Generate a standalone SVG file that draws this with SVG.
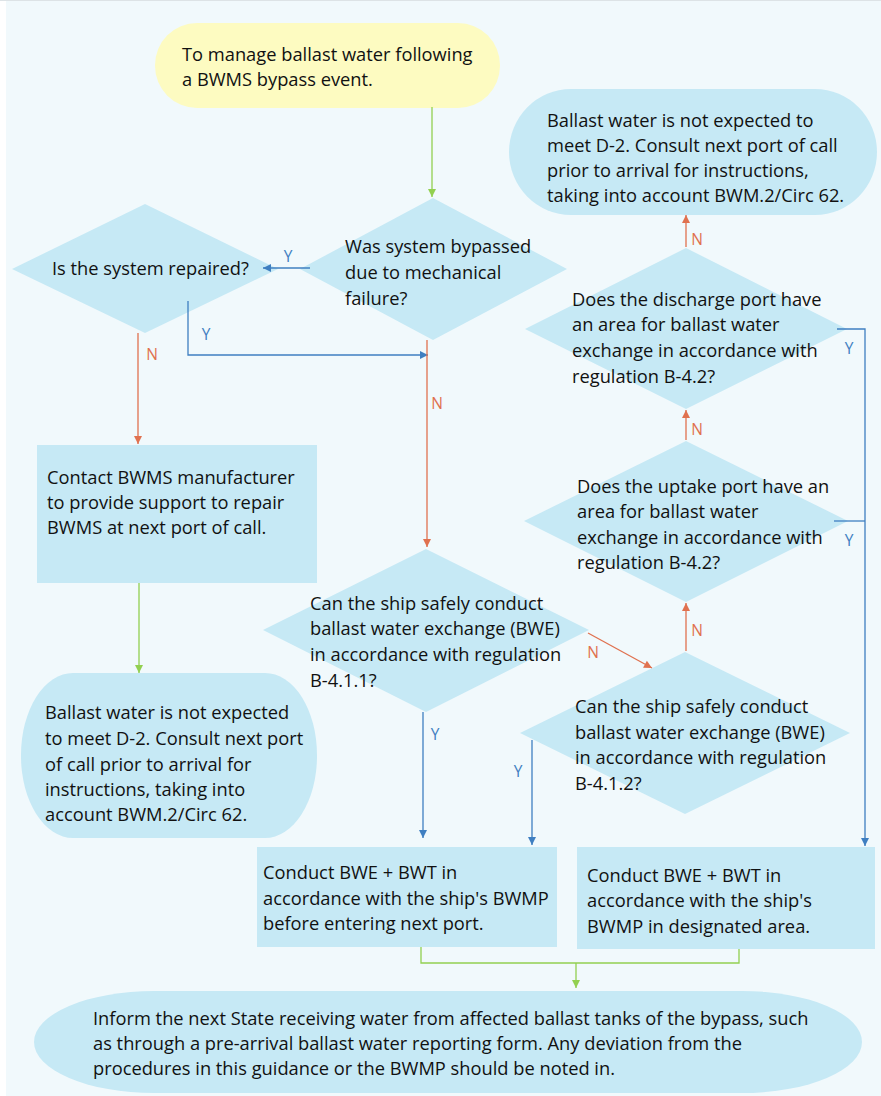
<svg xmlns="http://www.w3.org/2000/svg" width="881" height="1096" viewBox="0 0 881 1096">
<defs>
<style>
.t{font-family:"Open Sans","Liberation Sans",sans-serif;font-size:18.3px;fill:#111}
.node{fill:#c6e9f5}
.lb{font-family:"Open Sans","Liberation Sans",sans-serif;font-size:15.5px;text-anchor:middle}
.ly{fill:#3f7fc1}
.ln{fill:#e0714f}
.cb{fill:none;stroke:#3f7fc1;stroke-width:1.3}
.co{fill:none;stroke:#e0714f;stroke-width:1.3}
.cg{fill:none;stroke:#92d050;stroke-width:1.3}
</style>
<marker id="ab" viewBox="0 0 10 10" refX="10" refY="5" markerWidth="9" markerHeight="8" markerUnits="userSpaceOnUse" orient="auto"><path d="M0,0 L10,5 L0,10 z" fill="#3f7fc1"/></marker>
<marker id="ao" viewBox="0 0 10 10" refX="10" refY="5" markerWidth="9" markerHeight="8" markerUnits="userSpaceOnUse" orient="auto"><path d="M0,0 L10,5 L0,10 z" fill="#e0714f"/></marker>
<marker id="ag" viewBox="0 0 10 10" refX="10" refY="5" markerWidth="9" markerHeight="8" markerUnits="userSpaceOnUse" orient="auto"><path d="M0,0 L10,5 L0,10 z" fill="#92d050"/></marker>
</defs>
<rect x="0" y="0" width="881" height="1096" fill="#ffffff"/>
<rect x="6" y="1" width="875" height="1095" fill="#f1f9fc"/>
<line x1="0" y1="0.5" x2="881" y2="0.5" stroke="#dde3e6"/>

<g id="start">
<rect x="155" y="23" width="345" height="85" rx="42" ry="42" fill="#fdfbc1"/>
<text class="t" x="182" y="61">To manage ballast water following</text>
<text class="t" x="182" y="86">a BWMS bypass event.</text>
</g>

<g id="q-bypassed">
<polygon class="node" points="433,198 567,269 433,340 300,269"/>
<text class="t" x="345" y="253">Was system bypassed</text>
<text class="t" x="345" y="279">due to mechanical</text>
<text class="t" x="345" y="305">failure?</text>
</g>

<g id="q-repaired">
<polygon class="node" points="145,204 278,269 145,333 12,269"/>
<text class="t" x="52" y="275">Is the system repaired?</text>
</g>

<g id="contact">
<rect class="node" x="37" y="445" width="280" height="138"/>
<text class="t" x="47" y="484">Contact BWMS manufacturer</text>
<text class="t" x="47" y="509">to provide support to repair</text>
<text class="t" x="47" y="534">BWMS at next port of call.</text>
</g>

<g id="end-left">
<rect class="node" x="21" y="673" width="296" height="165" rx="52" ry="82"/>
<text class="t" x="45" y="719">Ballast water is not expected</text>
<text class="t" x="45" y="745">to meet D-2. Consult next port</text>
<text class="t" x="45" y="771">of call prior to arrival for</text>
<text class="t" x="45" y="796">instructions, taking into</text>
<text class="t" x="45" y="821">account BWM.2/Circ 62.</text>
</g>

<g id="end-right">
<rect class="node" x="509" y="89" width="368" height="126" rx="62" ry="63"/>
<text class="t" x="547" y="127">Ballast water is not expected to</text>
<text class="t" x="547" y="152">meet D-2. Consult next port of call</text>
<text class="t" x="547" y="177">prior to arrival for instructions,</text>
<text class="t" x="547" y="202">taking into account BWM.2/Circ 62.</text>
</g>

<g id="q-discharge">
<polygon class="node" points="686,248 847,329 686,409 525,329"/>
<text class="t" x="572" y="306">Does the discharge port have</text>
<text class="t" x="572" y="331">an area for ballast water</text>
<text class="t" x="572" y="357">exchange in accordance with</text>
<text class="t" x="572" y="383">regulation B-4.2?</text>
</g>

<g id="q-uptake">
<polygon class="node" points="686,441 848,521 686,602 524,521"/>
<text class="t" x="577" y="493">Does the uptake port have an</text>
<text class="t" x="577" y="518">area for ballast water</text>
<text class="t" x="577" y="544">exchange in accordance with</text>
<text class="t" x="577" y="569">regulation B-4.2?</text>
</g>

<g id="q-b411">
<polygon class="node" points="426,549 589,630 426,712 263,630"/>
<text class="t" x="310" y="610">Can the ship safely conduct</text>
<text class="t" x="310" y="635">ballast water exchange (BWE)</text>
<text class="t" x="310" y="661">in accordance with regulation</text>
<text class="t" x="310" y="687">B-4.1.1?</text>
</g>

<g id="q-b412">
<polygon class="node" points="685,652 850,733 685,814 520,733"/>
<text class="t" x="575" y="713">Can the ship safely conduct</text>
<text class="t" x="575" y="739">ballast water exchange (BWE)</text>
<text class="t" x="575" y="764">in accordance with regulation</text>
<text class="t" x="575" y="790">B-4.1.2?</text>
</g>

<g id="bwe-next-port">
<rect class="node" x="257" y="847" width="300" height="100"/>
<text class="t" x="263" y="879">Conduct BWE + BWT in</text>
<text class="t" x="263" y="905">accordance with the ship's BWMP</text>
<text class="t" x="263" y="930">before entering next port.</text>
</g>

<g id="bwe-designated">
<rect class="node" x="577" y="847" width="298" height="102"/>
<text class="t" x="587" y="882">Conduct BWE + BWT in</text>
<text class="t" x="587" y="907">accordance with the ship's</text>
<text class="t" x="587" y="933">BWMP in designated area.</text>
</g>

<g id="inform">
<rect class="node" x="34" y="991" width="828" height="102" rx="120" ry="51"/>
<text class="t" x="93" y="1025">Inform the next State receiving water from affected ballast tanks of the bypass, such</text>
<text class="t" x="93" y="1050">as through a pre-arrival ballast water reporting form. Any deviation from the</text>
<text class="t" x="93" y="1075">procedures in this guidance or the BWMP should be noted in.</text>
</g>

<g id="connectors">
<path class="cg" d="M432,107 V197" marker-end="url(#ag)"/>
<path class="cb" d="M310,268 H263" marker-end="url(#ab)"/>
<path class="cb" d="M188,301 V355 H428" marker-end="url(#ab)"/>
<path class="co" d="M138,333 V444" marker-end="url(#ao)"/>
<path class="co" d="M427,340 V547" marker-end="url(#ao)"/>
<path class="cg" d="M139,583 V673" marker-end="url(#ag)"/>
<path class="co" d="M588,633 L652,668" marker-end="url(#ao)"/>
<path class="co" d="M686,651 V603" marker-end="url(#ao)"/>
<path class="co" d="M686,440 V410" marker-end="url(#ao)"/>
<path class="co" d="M686,247 V215" marker-end="url(#ao)"/>
<path class="cb" d="M837,329 H865 V846" marker-end="url(#ab)"/>
<path class="cb" d="M834,521 H865"/>
<path class="cb" d="M423,712 V838" marker-end="url(#ab)"/>
<path class="cb" d="M532,740 V845" marker-end="url(#ab)"/>
<path class="cg" d="M421,947 V963 H739 V949"/>
<path class="cg" d="M576,963 V988" marker-end="url(#ag)"/>
<text class="lb ly" x="288" y="262">Y</text>
<text class="lb ly" x="206" y="340">Y</text>
<text class="lb ln" x="152" y="360">N</text>
<text class="lb ln" x="437" y="409">N</text>
<text class="lb ln" x="593" y="658">N</text>
<text class="lb ln" x="697" y="636">N</text>
<text class="lb ln" x="697" y="435">N</text>
<text class="lb ln" x="697" y="245">N</text>
<text class="lb ly" x="849" y="354">Y</text>
<text class="lb ly" x="849" y="546">Y</text>
<text class="lb ly" x="435" y="740">Y</text>
<text class="lb ly" x="518" y="777">Y</text>
</g>
</svg>
